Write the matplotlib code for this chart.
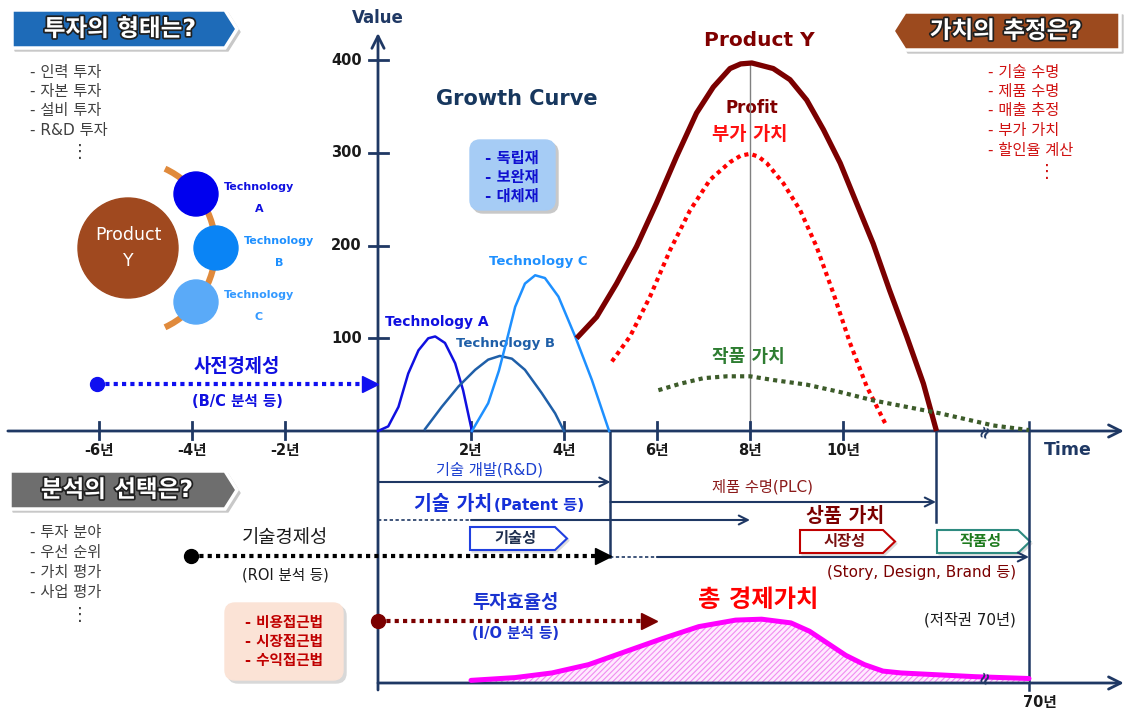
import matplotlib
matplotlib.use('Agg')
import matplotlib.pyplot as plt
import matplotlib.patheffects as pe
from matplotlib.patches import Polygon, Circle, Arc, FancyBboxPatch

plt.rcParams['font.family'] = ['DejaVu Sans', 'Noto Sans CJK KR']
plt.rcParams['hatch.linewidth'] = 0.8

W, H = 1129, 713
X0, Y0 = 378, 431          # pixel of (year 0, value 0)
PX_YEAR = 46.5
PX_VALUE = 0.927

NAVY = '#1F3864'

# ---- data (year, value) ----
year_ticks = [-6, -4, -2, 2, 4, 6, 8, 10]
value_ticks = [100, 200, 300, 400]

tech_a_x = [0, 0.22, 0.44, 0.65, 0.87, 1.08, 1.23, 1.44, 1.66, 1.83, 2.02]
tech_a_y = [0, 5, 26, 62, 87, 100, 102, 95, 73, 44, 0]

tech_b_x = [1.01, 1.37, 1.73, 2.09, 2.37, 2.62, 2.88, 3.16, 3.52, 3.81, 4.0]
tech_b_y = [2, 26, 48, 66, 77, 81, 78, 66, 41, 19, 0]

tech_c_x = [2.02, 2.37, 2.6, 2.77, 2.95, 3.16, 3.38, 3.59, 3.88, 4.24, 4.6, 4.97]
tech_c_y = [0, 30, 65, 98, 134, 159, 168, 165, 145, 102, 55, 0]

product_x = [4.27, 4.70, 5.13, 5.56, 5.99, 6.42, 6.85, 7.21, 7.57, 7.8, 8.04, 8.5,
             8.86, 9.22, 9.58, 9.94, 10.29, 10.65, 11.0, 11.37, 11.73, 12.01]
product_y = [100, 123, 159, 199, 246, 296, 343, 371, 391, 396, 397, 391,
             379, 357, 325, 289, 246, 202, 152, 102, 51, 0]

profit_x = [5.03, 5.42, 5.85, 6.28, 6.71, 7.14, 7.57, 7.8, 8.0, 8.18, 8.36, 8.72,
            9.08, 9.43, 9.79, 10.15, 10.51, 10.94]
profit_y = [75, 102, 145, 195, 238, 271, 290, 297, 299, 296, 289, 267,
            238, 199, 149, 95, 48, 5]

work_x = [6.03, 6.5, 7.0, 7.5, 8.0, 8.5, 9.22, 9.94, 10.65, 11.37, 12.09, 13.23, 14.0]
work_y = [44, 51, 57, 59, 59, 55, 50, 42, 33, 26, 19, 6, 1]

total_x = [2.0, 2.95, 3.74, 4.53, 5.32, 6.11, 6.9, 7.69, 8.25, 8.88, 9.28, 9.67,
           10.06, 10.46, 10.86, 11.25, 12.04, 12.83, 14.0]
total_y = [-269, -266, -261, -252, -238, -224, -211, -204, -203, -207, -216, -229,
           -242, -252, -259, -261, -263, -265, -267]

# economics arrows: start year, end year
econ_names = ['사전경제성', '기술경제성', '투자효율성']
econ_start = [-6.04, -4.02, 0]
econ_end = [0, 5, 6]


def vy(p):
    return (Y0 - p) / PX_VALUE


fig = plt.figure(figsize=(W / 100, H / 100), dpi=100)
deco = fig.add_axes([0, 0, 1, 1])
deco.set_xlim(0, W)
deco.set_ylim(H, 0)
deco.axis('off')

ax = fig.add_axes([0, 0, 1, 1])
ax.set_xlim(-X0 / PX_YEAR, (W - X0) / PX_YEAR)
ax.set_ylim((Y0 - H) / PX_VALUE, Y0 / PX_VALUE)
ax.axis('off')
ax.patch.set_alpha(0)

outline = [pe.withStroke(linewidth=2.5, foreground='#202020')]


def banner(pts, color, label, cx, cy):
    deco.add_patch(Polygon([(x + 3, y + 3) for x, y in pts], color='#C8C8C8', zorder=1))
    deco.add_patch(Polygon(pts, facecolor=color, edgecolor='white', lw=2.5, zorder=2))
    deco.text(cx, cy, label, ha='center', va='center', color='white', fontsize=17,
              fontweight='bold', path_effects=outline, zorder=3)


banner([(12, 10), (225, 10), (237, 29), (225, 48), (12, 48)], '#1E6BB8', '투자의 형태는?', 120, 29)
banner([(905, 12), (1120, 12), (1120, 50), (905, 50), (893, 31)], '#9C4A1E', '가치의 추정은?', 1006, 31)
banner([(10, 471), (225, 471), (237, 490), (225, 509), (10, 509)], '#6E6E6E', '분석의 선택은?', 117, 490)


def tag(x, y, w, edge, label, tcolor):
    pts = [(x, y), (x + w - 12, y), (x + w, y + 11.5), (x + w - 12, y + 23), (x, y + 23)]
    deco.add_patch(Polygon([(a + 2, b + 2) for a, b in pts], color='#DDDDDD', zorder=1))
    deco.add_patch(Polygon(pts, facecolor='white', edgecolor=edge, lw=1.5, zorder=2))
    deco.text(x + (w - 12) / 2 + 3, y + 11.5, label, ha='center', va='center', fontsize=11,
              fontweight='bold', color=tcolor, zorder=3)


tag(470, 527, 97, '#2040E0', '기술성', '#1F2F4F')
tag(800, 530, 95, '#C00000', '시장성', '#7B1010')
tag(937, 530, 93, '#2E8B80', '작품성', '#1E7B1E')

# lists
left_list = ['- 인력 투자', '- 자본 투자', '- 설비 투자', '- R&D 투자']
right_list = ['- 기술 수명', '- 제품 수명', '- 매출 추정', '- 부가 가치', '- 할인율 계산']
bottom_list = ['- 투자 분야', '- 우선 순위', '- 가치 평가', '- 사업 평가']
for i, s in enumerate(left_list):
    deco.text(30, 72 + i * 19.5, s, fontsize=11, color='#404040', va='center')
deco.text(80, 152, '⋮', fontsize=13, color='#404040', ha='center', va='center')
for i, s in enumerate(right_list):
    deco.text(988, 72 + i * 19.5, s, fontsize=11, color='#D01010', va='center')
deco.text(1047, 172, '⋮', fontsize=13, color='#D01010', ha='center', va='center')
for i, s in enumerate(bottom_list):
    deco.text(30, 532 + i * 20, s, fontsize=11, color='#404040', va='center')
deco.text(80, 615, '⋮', fontsize=13, color='#404040', ha='center', va='center')

# product / technology circles
deco.add_patch(Arc((128, 248), 175, 175, theta1=-65, theta2=65, color='#E08A3C', lw=4.5, zorder=1))
deco.add_patch(Circle((128, 248), 50, color='#A0491F', zorder=2))
deco.text(128, 248, 'Product\nY', ha='center', va='center', color='white', fontsize=12.5,
          linespacing=1.5, zorder=3)
for (cx, cy), col, lab, tcol in [((196, 194), '#0000EE', 'A', '#1010E0'),
                                 ((216, 248), '#0A84F5', 'B', '#1E90FF'),
                                 ((196, 302), '#5AAAF8', 'C', '#3399FF')]:
    deco.add_patch(Circle((cx, cy), 22, color=col, zorder=2))
    deco.text(cx + 63, cy - 7, 'Technology', ha='center', va='center', color=tcol,
              fontsize=8, fontweight='bold')
    deco.text(cx + 63, cy + 15, lab, ha='center', va='center', color=tcol,
              fontsize=8, fontweight='bold')

# rounded boxes
deco.add_patch(FancyBboxPatch((473, 143), 85, 70, boxstyle='round,pad=0,rounding_size=10',
                              color='#C8C8C8', zorder=1))
deco.add_patch(FancyBboxPatch((470, 140), 85, 70, boxstyle='round,pad=0,rounding_size=10',
                              color='#A6CCF5', zorder=2))
for i, s in enumerate(['- 독립재', '- 보완재', '- 대체재']):
    deco.text(512, 158 + i * 19, s, ha='center', va='center', fontsize=11,
              fontweight='bold', color='#1010D0', zorder=3)
deco.add_patch(FancyBboxPatch((228, 606), 118, 77, boxstyle='round,pad=0,rounding_size=10',
                              color='#D8D8D8', zorder=1))
deco.add_patch(FancyBboxPatch((225, 603), 118, 77, boxstyle='round,pad=0,rounding_size=10',
                              color='#FBE3D6', zorder=2))
for i, s in enumerate(['- 비용접근법', '- 시장접근법', '- 수익접근법']):
    deco.text(284, 622 + i * 19.5, s, ha='center', va='center', fontsize=10.5,
              fontweight='bold', color='#C00000', zorder=3)

# titles and labels
deco.text(378, 18, 'Value', ha='center', va='center', fontsize=12, fontweight='bold', color=NAVY)
deco.text(517, 99, 'Growth Curve', ha='center', va='center', fontsize=15, fontweight='bold', color='#17375E')
deco.text(759, 41, 'Product Y', ha='center', va='center', fontsize=14.5, fontweight='bold', color='#800000')
deco.text(752, 108, 'Profit', ha='center', va='center', fontsize=12, fontweight='bold', color='#800000')
deco.text(750, 134, '부가 가치', ha='center', va='center', fontsize=13.5, fontweight='bold', color='#FF1010')
deco.text(748, 357, '작품 가치', ha='center', va='center', fontsize=13, fontweight='bold', color='#2E7D32')
deco.text(437, 322, 'Technology A', ha='center', va='center', fontsize=10, fontweight='bold', color='#1010E0')
deco.text(505, 343, 'Technology B', ha='center', va='center', fontsize=9.5, fontweight='bold', color='#1F5FA8')
deco.text(538, 262, 'Technology C', ha='center', va='center', fontsize=9.5, fontweight='bold', color='#1E90FF')
deco.text(1068, 450, 'Time', ha='center', va='center', fontsize=12.5, fontweight='bold', color=NAVY)
deco.text(490, 470, '기술 개발(R&D)', ha='center', va='center', fontsize=11, color='#1A3FD0')
deco.text(492, 504, '기술 가치', ha='right', va='center', fontsize=14, fontweight='bold', color='#1530D8')
deco.text(494, 505, '(Patent 등)', ha='left', va='center', fontsize=11, fontweight='bold', color='#1530D8')
deco.text(762, 487, '제품 수명(PLC)', ha='center', va='center', fontsize=11, color='#8B1A1A')
deco.text(845, 517, '상품 가치', ha='center', va='center', fontsize=14, fontweight='bold', color='#7B0000')
deco.text(922, 573, '(Story, Design, Brand 등)', ha='center', va='center', fontsize=11, color='#7B0000')
deco.text(758, 600, '총 경제가치', ha='center', va='center', fontsize=17.5, fontweight='bold', color='#FF0000')
deco.text(970, 620, '(저작권 70년)', ha='center', va='center', fontsize=11, color='#1A1A1A')
deco.text(1040, 703, '70년', ha='center', va='center', fontsize=10.5, fontweight='bold', color='#1A1A1A')

econ_colors = ['#1010F0', '#000000', '#7B0000']
econ_label_px = [(237, 366, 401), (285, 537, 575), (515, 603, 634)]
econ_sub = ['(B/C 분석 등)', '(ROI 분석 등)', '(I/O 분석 등)']
econ_text_colors = ['#1010E0', '#1A1A1A', '#1A33D0']
econ_rows = [384, 556, 621]
for name, sub, (lx, ly1, ly2), tc in zip(econ_names, econ_sub, econ_label_px, econ_text_colors):
    bold = 'normal' if name == '기술경제성' else 'bold'
    deco.text(lx, ly1, name, ha='center', va='center', fontsize=13.5, fontweight=bold, color=tc)
    deco.text(lx, ly2, sub, ha='center', va='center', fontsize=10.5, fontweight=bold, color=tc)

# ---- chart layer ----
# axes
ax.annotate('', xy=(16.04, 0), xytext=(-7.96, 0),
            arrowprops=dict(arrowstyle='->', lw=2, color=NAVY, mutation_scale=22, shrinkA=0, shrinkB=0))
ax.annotate('', xy=(0, vy(33)), xytext=(0, vy(690)),
            arrowprops=dict(arrowstyle='->', lw=2, color=NAVY, mutation_scale=22, shrinkA=0, shrinkB=0))
ax.annotate('', xy=(16.04, vy(683)), xytext=(0, vy(683)),
            arrowprops=dict(arrowstyle='->', lw=2, color=NAVY, mutation_scale=22, shrinkA=0, shrinkB=0))
for v in value_ticks:
    ax.plot([-0.2, 0.22], [v, v], color=NAVY, lw=2)
    ax.text(-0.35, v, str(v), ha='right', va='center', fontsize=10.5, fontweight='bold', color='#1A1A1A')
for t in year_ticks:
    ax.plot([t, t], [vy(439), vy(422)], color=NAVY, lw=2)
    ax.text(t, vy(450), f'{t}년', ha='center', va='center', fontsize=10.5, fontweight='bold', color='#1A1A1A')

# vertical boundary lines
ax.plot([5, 5], [0, vy(557)], color=NAVY, lw=1.8)
ax.plot([12, 12], [0, vy(522)], color=NAVY, lw=1.8)
ax.plot([14, 14], [vy(422), vy(690)], color=NAVY, lw=1.8)
ax.plot([8, 8], [0, max(product_y)], color='#808080', lw=1, zorder=1)

# timeline rows
arrow_kw = dict(arrowstyle='->', lw=1.5, color=NAVY, mutation_scale=16, shrinkA=0, shrinkB=0)
ax.annotate('', xy=(5, vy(482)), xytext=(0, vy(482)), arrowprops=arrow_kw)
ax.annotate('', xy=(12, vy(502)), xytext=(5, vy(502)), arrowprops=arrow_kw)
ax.plot([0, 2], [vy(520), vy(520)], color=NAVY, lw=1.2, ls=(0, (2, 1.5)))
ax.annotate('', xy=(8, vy(520)), xytext=(2, vy(520)), arrowprops=arrow_kw)
ax.plot([5, 6], [vy(557), vy(557)], color=NAVY, lw=1.2, ls=(0, (2, 1.5)))
ax.annotate('', xy=(14, vy(557)), xytext=(6, vy(557)), arrowprops=arrow_kw)

# break marks
for yb in [0, vy(677)]:
    ax.text(13.05, yb, '≈', rotation=70, ha='center', va='center', fontsize=12,
            fontweight='bold', color=NAVY, zorder=6)

# growth curves
ax.plot(tech_a_x, tech_a_y, color='#1010E0', lw=1.8, zorder=3)
ax.plot(tech_b_x, tech_b_y, color='#1F5FA8', lw=1.8, zorder=3)
ax.plot(tech_c_x, tech_c_y, color='#1E90FF', lw=1.8, zorder=3)
ax.plot(product_x, product_y, color='#7B0000', lw=3.8, zorder=4, solid_capstyle='butt',
        solid_joinstyle='round')
ax.plot(profit_x, profit_y, color='#FF0000', lw=3, ls=(0, (1, 1)), zorder=4)
ax.plot(work_x, work_y, color='#3D5C2A', lw=3, ls=(0, (1, 1)), zorder=4)

# total economic value
ax.fill_between(total_x, total_y, vy(683), facecolor='#FFEAFF', edgecolor='#F08CF0',
                hatch='//////', linewidth=0, zorder=2)
ax.plot(total_x, total_y, color='#FF00FF', lw=3.6, zorder=3, solid_capstyle='round',
        solid_joinstyle='round')

# economics dotted arrows
for s, e, row, c in zip(econ_start, econ_end, econ_rows, econ_colors):
    y = vy(row)
    ax.plot([s, e - 0.2], [y, y], color=c, lw=3, ls=(0, (1, 1)), zorder=5)
    ax.plot([s], [y], 'o', color=c, ms=10, zorder=6)
    ax.plot([e - 0.17], [y], '>', color=c, ms=11, zorder=6)

fig.savefig('out.png', dpi=100)
